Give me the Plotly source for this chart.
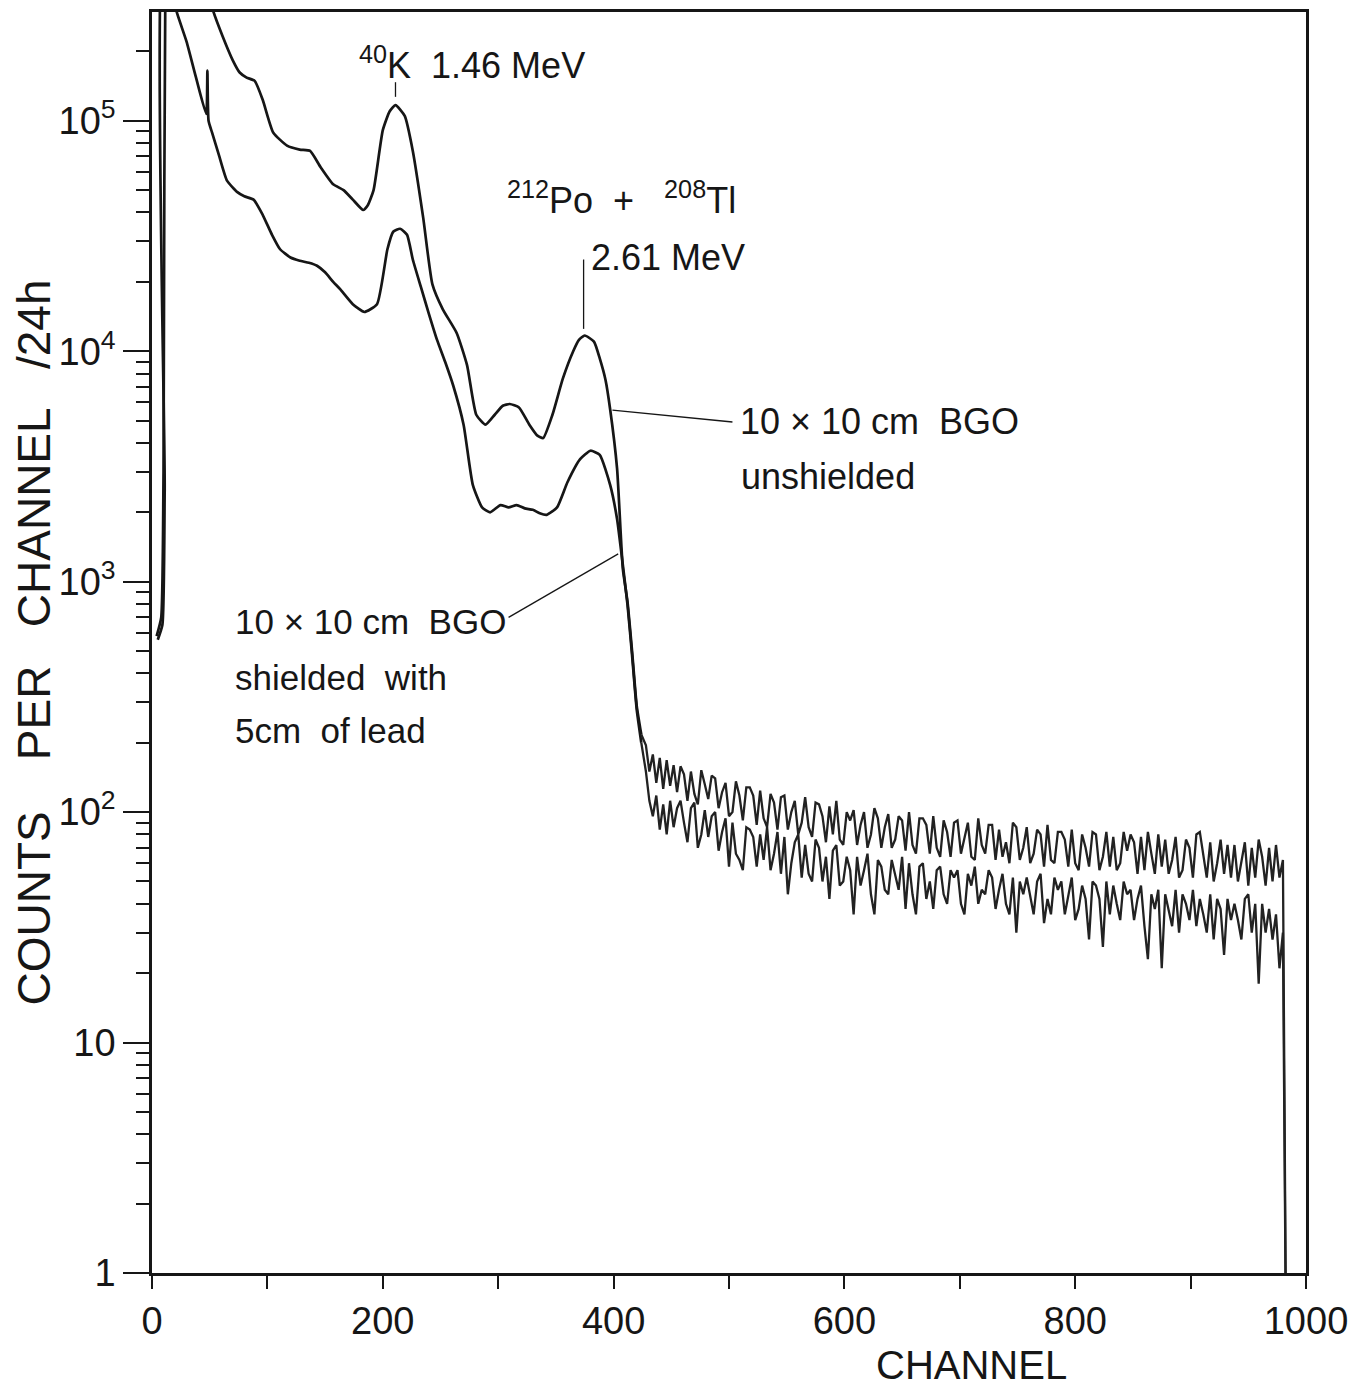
import plotly.graph_objects as go

# ---- unshielded 10x10 cm BGO, smooth part of spectrum (channel, counts/24h)
unsh_ch = [5, 9, 11, 13, 30, 44, 53, 61, 70, 76, 82, 89, 96, 105, 117, 128, 137,
           146, 157, 166, 174, 183, 187, 192, 200, 206, 211, 219, 226, 235, 243,
           252, 264, 273, 281, 289, 297, 304, 310, 318, 327, 334, 339, 347, 356,
           365, 370, 375, 383, 388, 393, 397, 403, 408, 412, 416, 420, 424]
unsh_counts = [560, 650, 2500, 1e6, 1e6, 4.5e5, 3.0e5, 2.34e5, 1.83e5, 1.62e5,
               1.54e5, 1.49e5, 1.23e5, 8.9e4, 7.8e4, 7.5e4, 7.4e4, 6.3e4, 5.3e4,
               5.0e4, 4.55e4, 4.1e4, 4.3e4, 5.0e4, 9.1e4, 1.1e5, 1.17e5, 1.05e5,
               7.4e4, 3.8e4, 1.95e4, 1.52e4, 1.2e4, 8.7e3, 5.3e3, 4.8e3, 5.3e3,
               5.8e3, 5.9e3, 5.7e3, 4.8e3, 4.3e3, 4.2e3, 5.3e3, 7.6e3, 1.0e4,
               1.12e4, 1.17e4, 1.1e4, 9.3e3, 7.5e3, 5.6e3, 3.1e3, 1.14e3, 820,
               500, 290, 217]

# ---- shielded (5 cm lead), smooth part
shld_ch = [4, 8, 10, 12, 16, 22, 30, 38, 47, 48, 49, 52, 58, 65, 74, 80, 88, 96,
           104, 111, 120, 128, 136, 143, 150, 157, 163, 174, 184, 195, 204, 209,
           215, 221, 226, 233, 240, 247, 254, 261, 270, 278, 286, 293, 302, 309,
           316, 323, 330, 336, 342, 351, 360, 371, 380, 388, 397, 403, 407, 412,
           416, 420, 424]
shld_counts = [580, 700, 3000, 1e6, 3.8e5, 2.9e5, 2.2e5, 1.55e5, 1.07e5, 1.65e5,
               1.0e5, 8.9e4, 7.1e4, 5.5e4, 4.9e4, 4.7e4, 4.55e4, 3.9e4, 3.2e4,
               2.77e4, 2.55e4, 2.47e4, 2.42e4, 2.35e4, 2.2e4, 2.0e4, 1.86e4,
               1.6e4, 1.48e4, 1.6e4, 2.77e4, 3.3e4, 3.4e4, 3.2e4, 2.5e4, 1.9e4,
               1.45e4, 1.12e4, 9.0e3, 7.1e3, 4.8e3, 2.63e3, 2.1e3, 2.0e3, 2.15e3,
               2.1e3, 2.15e3, 2.08e3, 2.05e3, 1.98e3, 1.95e3, 2.1e3, 2.7e3, 3.4e3,
               3.7e3, 3.55e3, 2.63e3, 1.87e3, 1.3e3, 800, 480, 280, 200]

# ---- noisy high-energy tail, read every 3rd channel (428 ... 980)
tail_ch = list(range(428, 981, 3))
unsh_tail = [195, 150, 178, 134, 172, 126, 168, 130, 160, 122,
             158, 146, 112, 150, 120, 108, 152, 132, 114, 144,
             140, 104, 122, 134, 96, 100, 136, 118, 92, 128,
             128, 118, 88, 124, 94, 86, 120, 110, 84, 116,
             118, 84, 100, 112, 80, 90, 116, 86, 78, 110,
             108, 96, 74, 106, 80, 112, 76, 72, 100, 92,
             102, 72, 88, 100, 70, 80, 104, 94, 70, 86,
             98, 70, 76, 96, 92, 68, 100, 72, 66, 94,
             94, 88, 66, 96, 70, 64, 92, 82, 64, 90,
             92, 66, 78, 90, 64, 62, 94, 72, 66, 88,
             88, 62, 84, 64, 74, 60, 90, 86, 62, 70,
             86, 60, 66, 84, 80, 58, 88, 62, 60, 82,
             82, 76, 58, 84, 60, 56, 80, 70, 58, 82,
             80, 56, 64, 82, 58, 78, 56, 60, 82, 68,
             80, 74, 54, 78, 56, 82, 66, 54, 80, 58,
             76, 54, 62, 78, 52, 56, 76, 70, 52, 80,
             82, 66, 52, 74, 50, 60, 76, 54, 72, 52,
             72, 50, 60, 74, 48, 70, 52, 76, 64, 48,
             70, 50, 72, 52, 62]
shld_tail = [150, 112, 96, 118, 84, 108, 80, 112, 86, 104,
             112, 90, 74, 104, 110, 70, 80, 102, 78, 96,
             100, 68, 82, 94, 58, 90, 66, 62, 56, 86,
             84, 78, 58, 80, 62, 86, 56, 66, 82, 54,
             78, 44, 60, 74, 80, 52, 72, 54, 50, 76,
             70, 50, 64, 42, 68, 72, 48, 50, 64, 56,
             36, 64, 48, 56, 66, 44, 36, 62, 58, 46,
             44, 62, 54, 46, 64, 38, 60, 44, 36, 58,
             60, 42, 50, 38, 56, 58, 44, 40, 56, 52,
             56, 40, 36, 54, 48, 58, 40, 46, 44, 56,
             52, 38, 46, 54, 40, 36, 52, 30, 50, 44,
             52, 44, 36, 50, 54, 33, 42, 36, 52, 46,
             50, 36, 44, 52, 34, 38, 48, 42, 28, 50,
             48, 42, 26, 50, 36, 48, 40, 34, 50, 44,
             46, 34, 42, 48, 32, 23, 44, 38, 46, 21,
             44, 38, 32, 46, 30, 44, 40, 34, 46, 32,
             42, 36, 30, 44, 28, 42, 38, 24, 42, 34,
             40, 34, 28, 42, 44, 30, 40, 18, 40, 30,
             38, 28, 36, 21, 30]

# cut-off at the end of the ADC range
end_ch = [983]
end_counts = [0.3]

FONT = "Liberation Sans, Arial, sans-serif"
INK = "#161616"
nb = "\u00a0"

fig = go.Figure()
# smooth low-energy parts
for xs, ys in [(unsh_ch, unsh_counts), (shld_ch, shld_counts)]:
    fig.add_trace(go.Scatter(x=xs, y=ys, mode="lines",
                             line=dict(color=INK, width=2.7, shape="spline", smoothing=0.5)))
# noisy tails, starting at the last smooth point
for xs, ys, tail in [(unsh_ch, unsh_counts, unsh_tail), (shld_ch, shld_counts, shld_tail)]:
    fig.add_trace(go.Scatter(x=xs[-1:] + tail_ch + end_ch, y=ys[-1:] + tail + end_counts,
                             mode="lines", line=dict(color="#222222", width=2.3)))

# leader lines from labels to the curves
leaders = [
    ([211, 211], [1.47e5, 1.27e5]),
    ([374, 374], [2.5e4, 1.25e4]),
    ([399, 503], [5.55e3, 4.93e3]),
    ([309, 404], [700, 1320]),
]
for lx, ly in leaders:
    fig.add_trace(go.Scatter(x=lx, y=ly, mode="lines",
                             line=dict(color=INK, width=1.3), hoverinfo="skip"))

labels = [
    (178, 5.25, "<sup>40</sup>K" + nb * 2 + "1.46 MeV", 36),
    (306, 4.667, "<sup>212</sup>Po" + nb + " + " + nb * 2 + "<sup>208</sup>Tl", 36),
    (379, 4.407, "2.61 MeV", 36),
    (508, 3.695, "10 × 10 cm" + nb * 2 + "BGO", 36),
    (509, 3.455, "unshielded", 36),
    (70, 2.826, "10 × 10 cm" + nb * 2 + "BGO", 35),
    (70, 2.586, "shielded" + nb * 2 + "with", 35),
    (70, 2.356, "5cm" + nb * 2 + "of lead", 35),
]
for ax, ay, txt, fs in labels:
    fig.add_annotation(x=ax, y=ay, text=txt, showarrow=False, xanchor="left",
                       yanchor="middle", font=dict(family=FONT, size=fs, color=INK))

fig.add_annotation(x=0.71, y=-0.0727, xref="paper", yref="paper", text="CHANNEL",
                   showarrow=False, xanchor="center", yanchor="middle",
                   font=dict(family=FONT, size=40, color=INK))

minor_y = [m * 10 ** e for e in range(6) for m in range(2, 10)]

fig.update_layout(
    width=1360, height=1391,
    margin=dict(l=144, r=62, t=1, b=126),
    paper_bgcolor="white", plot_bgcolor="white",
    showlegend=False,
    font=dict(family=FONT, color=INK),
    xaxis=dict(range=[0, 1000], tickvals=[0, 200, 400, 600, 800, 1000],
               ticks="outside", ticklen=13, tickwidth=2, tickcolor=INK,
               minor=dict(tickvals=[100, 300, 500, 700, 900], ticks="outside",
                          ticklen=13, tickwidth=2, tickcolor=INK),
               showline=True, linewidth=2.5, linecolor=INK, mirror=True,
               showgrid=False, zeroline=False, ticklabelstandoff=0,
               tickfont=dict(family=FONT, size=38, color=INK)),
    yaxis=dict(type="log", range=[0, 5.472],
               tickvals=[1, 10, 100, 1000, 1e4, 1e5],
               ticktext=["1", "10", "10<sup>2</sup>", "10<sup>3</sup>",
                         "10<sup>4</sup>", "10<sup>5</sup>"],
               ticks="outside", ticklen=26, tickwidth=2, tickcolor=INK,
               minor=dict(tickvals=minor_y, ticks="outside", ticklen=13,
                          tickwidth=2, tickcolor=INK),
               showline=True, linewidth=2.5, linecolor=INK, mirror=True,
               showgrid=False, zeroline=False,
               tickfont=dict(family=FONT, size=38, color=INK),
               title=dict(text="COUNTS" + nb * 4 + "PER" + nb * 3 + "CHANNEL" + nb * 3 + "/24h",
                          font=dict(family=FONT, size=46, color=INK), standoff=10)),
)

fig.write_html("out.html")
